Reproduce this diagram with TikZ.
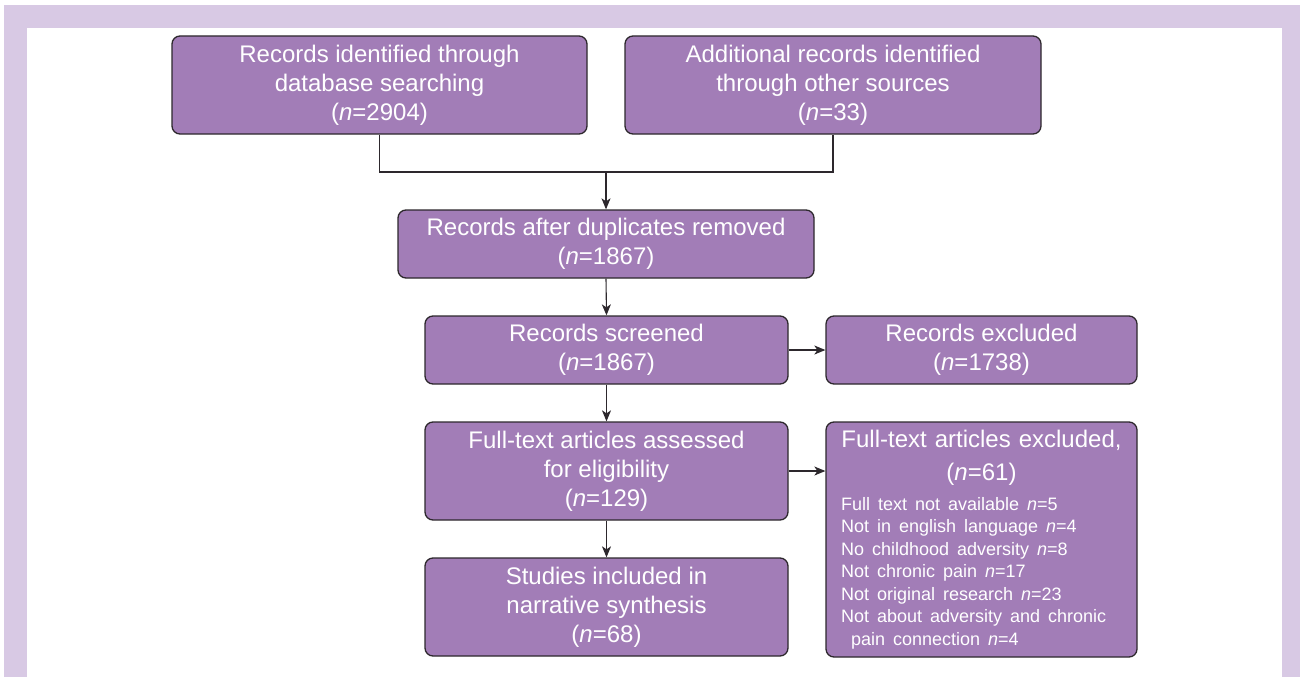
\documentclass[tikz,border=0pt]{standalone}
\usepackage{fontspec}
\setmainfont{Liberation Sans}
\usetikzlibrary{arrows.meta}
\definecolor{framecol}{RGB}{216,201,228}
\definecolor{boxfill}{RGB}{162,125,183}
\definecolor{boxline}{RGB}{45,40,45}
\tikzset{
  flowbox/.style={draw=boxline, line width=1.3pt, fill=boxfill, rounded corners=8pt,
    text=white, inner sep=0pt, align=center, font=\fontsize{24}{29}\selectfont},
  flowarrow/.style={draw=boxline, line width=1.1pt, -{Stealth[length=11pt,width=9pt,inset=3pt]}},
  flowline/.style={draw=boxline, line width=1.1pt}
}
\begin{document}
\begin{tikzpicture}[x=1pt,y=-1pt]
\useasboundingbox (0,0) rectangle (1300,677);
\fill[framecol] (4,5) rectangle (1300,677);
\fill[white] (27,28) rectangle (1282,677);

\node[flowbox, minimum width=415pt, minimum height=98pt] (b1) at (379.5,85)
  {Records identified through\\database searching\\(\textit{n}=2904)};
\node[flowbox, minimum width=416pt, minimum height=98pt] (b2) at (833,85)
  {Additional records identified\\through other sources\\(\textit{n}=33)};
\node[flowbox, minimum width=416pt, minimum height=68pt] (b3) at (606,244)
  {Records after duplicates removed\\(\textit{n}=1867)};
\node[flowbox, minimum width=363pt, minimum height=68pt] (b4) at (606.5,350)
  {Records screened\\(\textit{n}=1867)};
\node[flowbox, minimum width=311pt, minimum height=68pt] (b5) at (981.5,350)
  {Records excluded\\(\textit{n}=1738)};
\node[flowbox, minimum width=363pt, minimum height=98pt] (b6) at (606.5,471)
  {Full-text articles assessed\\for eligibility\\(\textit{n}=129)};
\node[flowbox, minimum width=311pt, minimum height=235pt, text width=281pt, align=left] (b7) at (981.5,539.5)
  {\vspace*{4pt}{\centering Full-text articles excluded,\\(\textit{n}=61)\par}
   \vspace{7pt}
   {\raggedright\fontsize{18}{22.5}\selectfont Full text not available \textit{n}=5\\
   Not in english language \textit{n}=4\\
   No childhood adversity \textit{n}=8\\
   Not chronic pain \textit{n}=17\\
   Not original research \textit{n}=23\\
   Not about adversity and chronic\\
   \hspace*{10pt}pain connection \textit{n}=4\par}};
\node[flowbox, minimum width=363pt, minimum height=98pt] (b8) at (606.5,607)
  {Studies included in\\narrative synthesis\\(\textit{n}=68)};

\coordinate (m) at (606,172);
\draw[flowline] (b1.south) |- (m) -| (b2.south);
\draw[flowarrow] (m) -- (b3.north);
\draw[flowarrow] (b3.south) -- (b4.north);
\draw[flowarrow] (b4.east) -- (b5.west);
\draw[flowarrow] (b4.south) -- (b6.north);
\draw[flowarrow] (b6.east) -- (b6.east -| b7.west);
\draw[flowarrow] (b6.south) -- (b8.north);
\end{tikzpicture}
\end{document}
